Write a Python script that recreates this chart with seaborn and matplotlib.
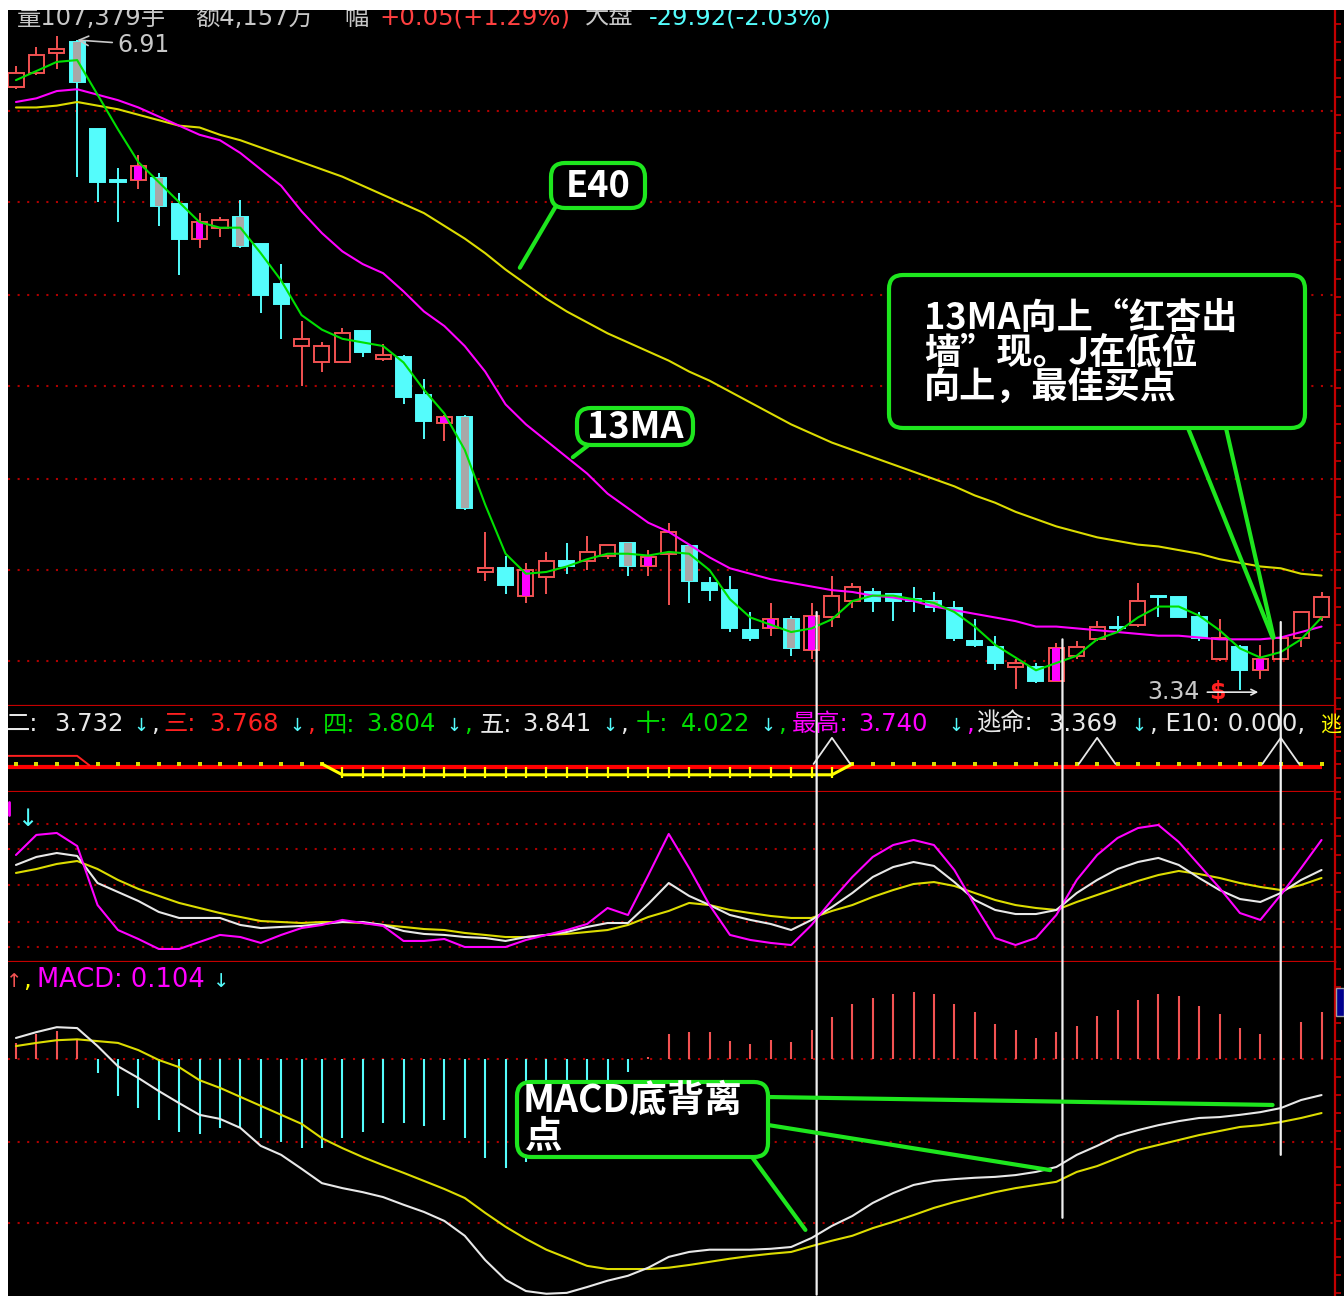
import numpy as np
import pandas as pd
import matplotlib
matplotlib.use("Agg")
import matplotlib.pyplot as plt
import seaborn as sns
from matplotlib.patches import Rectangle, FancyBboxPatch, ConnectionPatch
from matplotlib.ticker import MultipleLocator

sns.set_style("dark")
TXT_FAMILY = ["DejaVu Sans", "Noto Sans CJK SC"]
CJK_FAMILY = ["Noto Sans CJK SC", "DejaVu Sans"]
plt.rcParams["font.family"] = TXT_FAMILY

W, H = 1344, 1302

# ---------------- data ----------------
open_ = [6.65, 6.73, 6.84, 6.90, 6.42, 6.14, 6.14, 6.15, 6.01, 5.82,
         5.88, 5.94, 5.79, 5.57, 5.23, 5.14, 5.14, 5.31, 5.16, 5.17,
         4.96, 4.81, 4.84, 3.99, 4.01, 3.86, 3.96, 4.05, 4.05, 4.08,
         4.15, 4.02, 4.09, 4.13, 3.93, 3.89, 3.67, 3.68, 3.73, 3.56,
         3.74, 3.83, 3.88, 3.87, 3.84, 3.83, 3.79, 3.61, 3.58, 3.47,
         3.47, 3.39, 3.53, 3.62, 3.69, 3.70, 3.86, 3.85, 3.74, 3.51,
         3.58, 3.45, 3.51, 3.63, 3.74]
high = [6.77, 6.87, 6.93, 6.91, 6.42, 6.21, 6.28, 6.18, 6.07, 5.96,
        5.94, 6.03, 5.79, 5.68, 5.37, 5.25, 5.33, 5.31, 5.24, 5.18,
        5.05, 4.85, 4.85, 4.21, 4.08, 4.04, 4.10, 4.15, 4.19, 4.14,
        4.15, 4.11, 4.26, 4.13, 3.96, 3.97, 3.77, 3.82, 3.75, 3.82,
        3.97, 3.93, 3.90, 3.87, 3.91, 3.88, 3.83, 3.73, 3.64, 3.51,
        3.49, 3.60, 3.61, 3.72, 3.75, 3.93, 3.86, 3.85, 3.77, 3.73,
        3.59, 3.59, 3.64, 3.77, 3.88]
low = [6.64, 6.72, 6.75, 6.16, 6.02, 5.91, 6.09, 5.89, 5.62, 5.77,
       5.83, 5.77, 5.41, 5.27, 5.01, 5.09, 5.14, 5.17, 5.15, 4.91,
       4.72, 4.71, 4.33, 3.94, 3.87, 3.82, 3.87, 3.98, 4.00, 4.06,
       3.97, 3.97, 3.81, 3.82, 3.83, 3.66, 3.61, 3.64, 3.53, 3.51,
       3.69, 3.79, 3.77, 3.72, 3.77, 3.77, 3.61, 3.58, 3.45, 3.35,
       3.38, 3.39, 3.51, 3.61, 3.66, 3.69, 3.74, 3.74, 3.61, 3.50,
       3.34, 3.40, 3.51, 3.58, 3.72]
close = [6.73, 6.83, 6.86, 6.68, 6.13, 6.13, 6.22, 6.00, 5.82, 5.91,
         5.92, 5.78, 5.51, 5.46, 5.27, 5.23, 5.30, 5.20, 5.18, 4.95,
         4.82, 4.84, 4.34, 4.01, 3.92, 4.00, 4.05, 4.02, 4.10, 4.14,
         4.02, 4.07, 4.21, 3.94, 3.89, 3.68, 3.63, 3.73, 3.57, 3.75,
         3.86, 3.91, 3.83, 3.83, 3.83, 3.80, 3.63, 3.59, 3.49, 3.49,
         3.39, 3.57, 3.58, 3.69, 3.68, 3.83, 3.85, 3.74, 3.63, 3.63,
         3.45, 3.51, 3.63, 3.77, 3.85]
# centre stripe inside some bodies: m = magenta, g = gray
stripe = list("...g..mg.m" ".g........" ".mg..m...." "gm.g...mgm"
              ".....g...." ".m........" ".m...")

ma5 = [6.69, 6.74, 6.79, 6.80, 6.61, 6.42, 6.24, 6.13, 6.02, 5.91,
       5.88, 5.88, 5.74, 5.59, 5.40, 5.32, 5.27, 5.25, 5.23, 5.14,
       4.99, 4.86, 4.66, 4.36, 4.09, 3.98, 3.99, 4.02, 4.06, 4.09,
       4.09, 4.08, 4.10, 4.09, 4.00, 3.84, 3.74, 3.70, 3.66, 3.68,
       3.73, 3.83, 3.86, 3.86, 3.84, 3.82, 3.77, 3.69, 3.59, 3.52,
       3.45, 3.49, 3.53, 3.62, 3.66, 3.74, 3.80, 3.80, 3.75, 3.67,
       3.57, 3.52, 3.55, 3.62, 3.74]
ma13 = [6.57, 6.59, 6.63, 6.64, 6.61, 6.58, 6.54, 6.49, 6.44, 6.39,
        6.36, 6.29, 6.20, 6.11, 5.97, 5.85, 5.75, 5.68, 5.63, 5.53,
        5.42, 5.34, 5.23, 5.09, 4.91, 4.80, 4.71, 4.62, 4.53, 4.42,
        4.34, 4.26, 4.21, 4.14, 4.07, 4.01, 3.98, 3.95, 3.93, 3.91,
        3.89, 3.88, 3.86, 3.85, 3.83, 3.80, 3.78, 3.76, 3.74, 3.72,
        3.69, 3.69, 3.68, 3.67, 3.66, 3.65, 3.64, 3.64, 3.63, 3.62,
        3.62, 3.62, 3.63, 3.66, 3.69]
e40 = [6.54, 6.54, 6.55, 6.57, 6.55, 6.53, 6.50, 6.47, 6.44, 6.43,
       6.39, 6.36, 6.32, 6.28, 6.24, 6.20, 6.16, 6.11, 6.06, 6.01,
       5.96, 5.89, 5.82, 5.74, 5.65, 5.57, 5.49, 5.42, 5.36, 5.30,
       5.25, 5.20, 5.15, 5.09, 5.04, 4.98, 4.92, 4.86, 4.80, 4.75,
       4.70, 4.66, 4.62, 4.58, 4.54, 4.50, 4.46, 4.41, 4.37, 4.32,
       4.28, 4.24, 4.21, 4.18, 4.16, 4.14, 4.13, 4.11, 4.09, 4.06,
       4.04, 4.02, 4.01, 3.98, 3.97]

kdj_k = [66.7, 73.2, 76.4, 74.0, 52.0, 44.7, 37.4, 28.5, 23.6, 23.6,
         23.6, 17.9, 15.4, 16.3, 17.1, 18.7, 20.3, 20.3, 17.9, 13.0,
         10.6, 9.8, 8.1, 7.3, 4.9, 8.1, 9.8, 12.2, 16.3, 19.5,
         19.5, 35.0, 52.0, 41.5, 34.1, 26.0, 22.0, 18.7, 13.8, 22.0,
         32.5, 43.9, 56.9, 65.0, 69.1, 65.9, 52.8, 38.2, 30.1, 26.8,
         26.8, 30.1, 43.9, 54.5, 63.4, 69.1, 72.4, 66.7, 56.1, 46.3,
         39.0, 36.6, 43.9, 54.5, 62.6]
kdj_d = [60.2, 63.4, 67.5, 69.9, 63.4, 54.5, 47.2, 41.5, 35.8, 31.7,
         27.6, 24.4, 21.1, 20.3, 19.5, 20.3, 20.3, 19.5, 17.9, 16.3,
         14.6, 13.8, 11.4, 9.8, 8.1, 8.1, 9.8, 10.6, 12.2, 13.8,
         17.9, 24.4, 29.3, 35.8, 34.1, 30.1, 27.6, 25.2, 23.6, 23.6,
         29.3, 34.1, 40.7, 46.3, 51.2, 52.8, 49.6, 43.9, 38.2, 34.1,
         31.7, 30.1, 36.6, 42.3, 48.0, 53.7, 58.5, 61.8, 59.3, 56.1,
         52.0, 48.8, 46.3, 50.4, 56.1]
kdj_j = [74.8, 91.1, 92.7, 82.1, 34.1, 13.8, 6.5, -1.6, -1.6, 4.1,
         9.8, 8.1, 3.3, 9.8, 15.4, 17.9, 22.0, 19.5, 17.1, 4.9,
         4.9, 6.5, 0.0, 0.0, 0.0, 5.7, 9.8, 13.8, 18.7, 31.7,
         26.0, 58.5, 91.9, 64.2, 34.1, 9.8, 5.7, 3.3, 1.6, 17.9,
         38.2, 56.9, 73.2, 82.9, 87.0, 82.9, 62.6, 34.1, 7.3, 1.6,
         7.3, 26.0, 54.5, 74.8, 88.6, 96.7, 99.2, 85.4, 66.7, 48.0,
         27.6, 22.0, 42.3, 64.2, 87.0]

dif = [0.047, 0.060, 0.071, 0.069, 0.029, -0.016, -0.042, -0.071, -0.098, -0.124,
       -0.133, -0.153, -0.193, -0.213, -0.244, -0.276, -0.287, -0.296, -0.307, -0.324,
       -0.340, -0.360, -0.393, -0.447, -0.491, -0.516, -0.522, -0.520, -0.507, -0.493,
       -0.482, -0.464, -0.440, -0.429, -0.424, -0.424, -0.424, -0.422, -0.418, -0.398,
       -0.371, -0.349, -0.320, -0.298, -0.280, -0.271, -0.267, -0.264, -0.262, -0.258,
       -0.251, -0.240, -0.213, -0.193, -0.171, -0.158, -0.147, -0.138, -0.131, -0.129,
       -0.124, -0.118, -0.109, -0.091, -0.080]
dea = [0.029, 0.036, 0.042, 0.044, 0.040, 0.036, 0.020, -0.002, -0.018, -0.047,
       -0.064, -0.084, -0.104, -0.124, -0.144, -0.176, -0.198, -0.218, -0.236, -0.253,
       -0.271, -0.289, -0.309, -0.342, -0.373, -0.400, -0.424, -0.442, -0.460, -0.467,
       -0.467, -0.467, -0.464, -0.458, -0.451, -0.444, -0.438, -0.433, -0.429, -0.416,
       -0.404, -0.393, -0.376, -0.362, -0.347, -0.331, -0.318, -0.307, -0.296, -0.287,
       -0.280, -0.273, -0.251, -0.238, -0.220, -0.202, -0.191, -0.180, -0.169, -0.160,
       -0.151, -0.147, -0.140, -0.131, -0.120]
macd = [0.036, 0.056, 0.062, 0.044, -0.031, -0.082, -0.109, -0.136, -0.162, -0.167,
        -0.153, -0.153, -0.176, -0.184, -0.198, -0.198, -0.176, -0.162, -0.142, -0.142,
        -0.149, -0.136, -0.176, -0.220, -0.242, -0.230, -0.200, -0.160, -0.090, -0.050,
        -0.029, 0.004, 0.056, 0.060, 0.060, 0.040, 0.033, 0.042, 0.038, 0.064,
        0.093, 0.122, 0.136, 0.144, 0.149, 0.144, 0.122, 0.104, 0.078, 0.064,
        0.047, 0.060, 0.073, 0.096, 0.109, 0.131, 0.144, 0.140, 0.118, 0.100,
        0.069, 0.056, 0.064, 0.082, 0.104]

# signal strip: 1 = "escape" ladder, warn = early red line, triangles = buy marks
escape = [0] * 16 + [1] * 25 + [0] * 24
warn_idx = [0, 1, 2, 3]
buy_idx = [40, 53, 62]

# marker lines (candle index, price at top, MACD value at bottom)
mark_idx = [39.25, 51.3, 62.0]
mark_top = [3.77, 3.62, 3.715]
mark_bottom = [-0.524, -0.353, -0.213]

# indicator header row
row_names = ["二", "三", "四", "五", "十", "最高", "逃命"]
row_values = ["3.732", "3.768", "3.804", "3.841", "4.022", "3.740", "3.369"]

df = pd.DataFrame({"open": open_, "high": high, "low": low, "close": close,
                   "ma5": ma5, "ma13": ma13, "e40": e40,
                   "k": kdj_k, "d": kdj_d, "j": kdj_j,
                   "dif": dif, "dea": dea, "macd": macd,
                   "stripe": stripe, "escape": escape})
df["idx"] = np.arange(len(df))

# ---------------- colours ----------------
BORDER = "#c40000"
GRID = "#b00000"
C_RED = "#f25252"
C_CYAN = "#54fcfc"
C_GREEN = "#00e000"
C_MAG = "#ff00ff"
C_YEL = "#dcdc00"
C_WHITE = "#e8e8e8"
C_GRAY = "#c8c8c8"
CALLOUT = "#1ee61e"

fig = plt.figure(figsize=(W / 100, H / 100), dpi=100, facecolor="white")
fig.add_artist(Rectangle((8 / W, 0), 1 - 8 / W, 1 - 10 / H, transform=fig.transFigure,
                         facecolor="black", edgecolor="none", zorder=-10))


def prect(top, bottom, left=8, right=1335):
    return [left / W, 1 - bottom / H, (right - left) / W, (bottom - top) / H]


ax = fig.add_axes(prect(10, 706))
ax_s = fig.add_axes(prect(706, 792))
ax_k = fig.add_axes(prect(792, 962))
ax_m = fig.add_axes(prect(962, 1296))
XLIM = (-0.39, 64.66)
for a in (ax, ax_s, ax_k, ax_m):
    a.set_facecolor("black")
    a.set_xlim(*XLIM)
    a.grid(False)
    a.set_xticks([])
    for s in ("left", "top"):
        a.spines[s].set_visible(False)
    for s in ("right", "bottom"):
        a.spines[s].set_visible(True)
        a.spines[s].set_color(BORDER)
        a.spines[s].set_linewidth(1.6)
    a.tick_params(axis="y", left=False, labelleft=False, right=True, labelright=False,
                  color=BORDER, length=4, width=1.2, direction="out")
ax_m.spines["bottom"].set_visible(False)

ax.set_ylim(3.254, 7.075)
ax_s.set_ylim(0, 1)
ax_k.set_ylim(-12.2, 126)
ax_m.set_ylim(-0.527, 0.216)
ax.yaxis.set_major_locator(MultipleLocator(0.1))
ax_s.yaxis.set_major_locator(MultipleLocator(0.16))
ax_k.yaxis.set_major_locator(MultipleLocator(15))
ax_m.yaxis.set_major_locator(MultipleLocator(0.04))

dots = dict(color=GRID, linestyle=(0, (1, 3.6)), linewidth=1.5, zorder=1)
for lvl in [6.52, 6.02, 5.51, 5.01, 4.50, 4.00, 3.50]:
    ax.axhline(lvl, **dots)
for lvl in [100, 80, 50, 20, 0]:
    ax_k.axhline(lvl, **dots)
for lvl in [0.0, -0.184, -0.364]:
    ax_m.axhline(lvl, **dots)

# ---------------- candles ----------------
up = (df["close"] >= df["open"]).to_numpy()
edge = np.where(up, C_RED, C_CYAN)
ax.vlines(df["idx"], df["low"], df["high"], colors=edge, linewidth=1.4, zorder=2)
body_lo = np.minimum(df["open"], df["close"])
body_h = np.maximum((df["close"] - df["open"]).abs(), 0.004)
ax.bar(df["idx"], body_h, bottom=body_lo, width=0.74,
       color=np.where(up, "black", C_CYAN), edgecolor=edge, linewidth=1.4, zorder=3)
for code, col in (("m", C_MAG), ("g", "#a8a8a8")):
    sel = df["stripe"] == code
    ax.bar(df.loc[sel, "idx"], body_h[sel], bottom=body_lo[sel], width=0.38,
           color=col, linewidth=0, zorder=4)

sns.lineplot(data=df, x="idx", y="e40", ax=ax, color=C_YEL, linewidth=1.5, legend=False, zorder=5)
sns.lineplot(data=df, x="idx", y="ma13", ax=ax, color=C_MAG, linewidth=1.5, legend=False, zorder=5)
sns.lineplot(data=df, x="idx", y="ma5", ax=ax, color=C_GREEN, linewidth=1.5, legend=False, zorder=6)

ax.annotate("6.91", xy=(3.0, 6.91), xytext=(4.95, 6.885), color=C_GRAY, fontsize=17, va="center",
            arrowprops=dict(arrowstyle="->", color=C_GRAY, lw=1.2, shrinkA=1, shrinkB=0))
ax.text(55.45, 3.33, "3.34", color=C_GRAY, fontsize=17, va="center")
ax.text(58.5, 3.33, "$", color="#ff2020", fontsize=17, fontweight="bold", va="center")
ax.annotate("", xy=(60.9, 3.33), xytext=(58.4, 3.33),
            arrowprops=dict(arrowstyle="->", color=C_WHITE, lw=1.2, shrinkA=0, shrinkB=0))

# ---------------- signal strip ----------------
ax_s.hlines(0.29, XLIM[0], 64.0, color="#ff0000", linewidth=3.0, zorder=3)
ax_s.plot([XLIM[0]] + warn_idx[1:] + [warn_idx[-1] + 0.6], [0.42] * len(warn_idx) + [0.31],
          color="#ff2020", linewidth=1.4, zorder=3)
flat = df[df["escape"] == 0]
ax_s.scatter(flat["idx"], [0.326] * len(flat), marker="s", s=6, color=C_YEL, linewidths=0, zorder=4)
lad = df[df["escape"] == 1]["idx"].tolist()
ax_s.plot([lad[0] - 1] + lad + [lad[-1] + 1], [0.326] + [0.2] * len(lad) + [0.326],
          color="#ffff00", linewidth=2.2, zorder=4)
ax_s.vlines(lad, 0.16, 0.29, color="#ffff00", linewidth=1.6, zorder=4)
for b in buy_idx:
    ax_s.plot([b - 0.9, b, b + 0.9], [0.326, 0.63, 0.326], color=C_WHITE, linewidth=1.3, zorder=5)

# ---------------- KDJ ----------------
sns.lineplot(data=df, x="idx", y="d", ax=ax_k, color=C_YEL, linewidth=1.5, legend=False, zorder=3)
sns.lineplot(data=df, x="idx", y="k", ax=ax_k, color=C_WHITE, linewidth=1.5, legend=False, zorder=4)
sns.lineplot(data=df, x="idx", y="j", ax=ax_k, color=C_MAG, linewidth=1.5, legend=False, zorder=5)

# ---------------- MACD ----------------
ax_m.vlines(df["idx"], 0, df["macd"], colors=np.where(df["macd"] >= 0, C_RED, C_CYAN),
            linewidth=1.5, zorder=2)
sns.lineplot(data=df, x="idx", y="dea", ax=ax_m, color=C_YEL, linewidth=1.5, legend=False, zorder=3)
sns.lineplot(data=df, x="idx", y="dif", ax=ax_m, color=C_WHITE, linewidth=1.5, legend=False, zorder=4)

for a in (ax, ax_s, ax_k, ax_m):
    a.set_xlabel("")
    a.set_ylabel("")

# white marker lines running through all panels
for i, t, b in zip(mark_idx, mark_top, mark_bottom):
    fig.add_artist(ConnectionPatch(xyA=(i, t), coordsA=ax.transData, xyB=(i, b), coordsB=ax_m.transData,
                                   color="#f0f0f0", linewidth=1.6, zorder=4))


# ---------------- header texts ----------------
def ftext(x, y, s, color, size=17.5, **kw):
    fig.text(x / W, 1 - y / H, s, color=color, fontsize=size, ha="left", va="baseline",
             family=TXT_FAMILY, **kw)


ftext(17, 25, "量107,379手", C_GRAY)
ftext(195, 25, "额4,157万", C_GRAY)
ftext(344, 25, "幅", C_GRAY)
ftext(379, 25, "+0.05(+1.29%)", "#ff4040")
ftext(585, 25, "大盘", C_GRAY)
ftext(649, 25, "-29.92(-2.03%)", C_CYAN)

row_colors = [C_WHITE, "#ff2020", "#00dd00", C_WHITE, "#00dd00", C_MAG, C_WHITE]
name_x = [6, 163, 323, 480, 636, 792, 977]
value_x = [54, 209, 366, 522, 681, 858, 1048]
arrow_x = [133, 289, 446, 602, 760, 948, 1131]
for k, (nm, val, col) in enumerate(zip(row_names, row_values, row_colors)):
    ftext(name_x[k], 731, nm + ":", col)
    ftext(value_x[k], 731, val, col)
    ftext(arrow_x[k], 731, "↓", C_CYAN, size=13)
    if k < len(row_names) - 1:
        ftext(arrow_x[k] + 18, 731, ",", col)
ftext(1150, 731, ", E10: 0.000,", C_WHITE)
ftext(1321, 731, "逃", "#ffff00", size=15)

ftext(17, 826, "↓", C_CYAN)
ftext(6, 987, "↑", C_RED, size=14)
ftext(23, 987, ",", "#ffff00")
ftext(37, 987, "MACD: 0.104", C_MAG, size=18.5)
ftext(213, 987, "↓", C_CYAN, size=14)

# ---------------- callouts (pixel overlay) ----------------
ov = fig.add_axes([0, 0, 1, 1], zorder=10)
ov.set_xlim(0, W)
ov.set_ylim(H, 0)
ov.axis("off")
ov.patch.set_visible(False)
ov.plot([9, 9], [802, 815], color=C_MAG, linewidth=2)
ov.add_patch(Rectangle((1336, 988), 8, 28, facecolor="#000090", edgecolor="#a0a0a0", linewidth=1))


def callout(x0, y0, x1, y1):
    ov.add_patch(FancyBboxPatch((x0, y0), x1 - x0, y1 - y0, boxstyle="round,pad=0,rounding_size=14",
                                facecolor="black", edgecolor=CALLOUT, linewidth=3))


def pointer(px, py, target, axes):
    fig.add_artist(ConnectionPatch(xyA=(px, py), coordsA=ov.transData, xyB=target,
                                   coordsB=axes.transData, color=CALLOUT, linewidth=3, zorder=5))


bold = dict(color="white", fontweight="bold", family=CJK_FAMILY)
callout(551, 163, 645, 208)
ov.text(598, 186, "E40", ha="center", va="center", fontsize=26, **bold)
pointer(556, 206, (24.7, 5.66), ax)

callout(577, 408, 693, 445)
ov.text(635, 427, "13MA", ha="center", va="center", fontsize=26, **bold)
pointer(590, 444, (27.3, 4.62), ax)

callout(889, 275, 1305, 428)
for txt, yy in (("13MA向上“红杏出", 318), ("墙”现。J在低位", 353), ("向上，最佳买点", 388)):
    ov.text(924, yy, txt, ha="left", va="center", fontsize=26, **bold)
pointer(1188, 428, (61.6, 3.63), ax)
pointer(1226, 428, (61.65, 3.63), ax)

callout(517, 1082, 768, 1157)
ov.text(523, 1100, "MACD底背离", ha="left", va="center", fontsize=27, **bold)
ov.text(525, 1136, "点", ha="left", va="center", fontsize=27, **bold)
pointer(768, 1097, (61.6, -0.102), ax_m)
pointer(768, 1125, (50.7, -0.247), ax_m)
pointer(752, 1157, (38.7, -0.38), ax_m)

# white page borders
for r in ((0, 0, 8 / W, 1), (0, 1 - 10 / H, 1, 10 / H), (0, 0, 1, 6 / H)):
    fig.add_artist(Rectangle(r[:2], r[2], r[3], transform=fig.transFigure,
                             facecolor="white", edgecolor="none", zorder=30))

fig.savefig("out.png", dpi=100, facecolor="white")
